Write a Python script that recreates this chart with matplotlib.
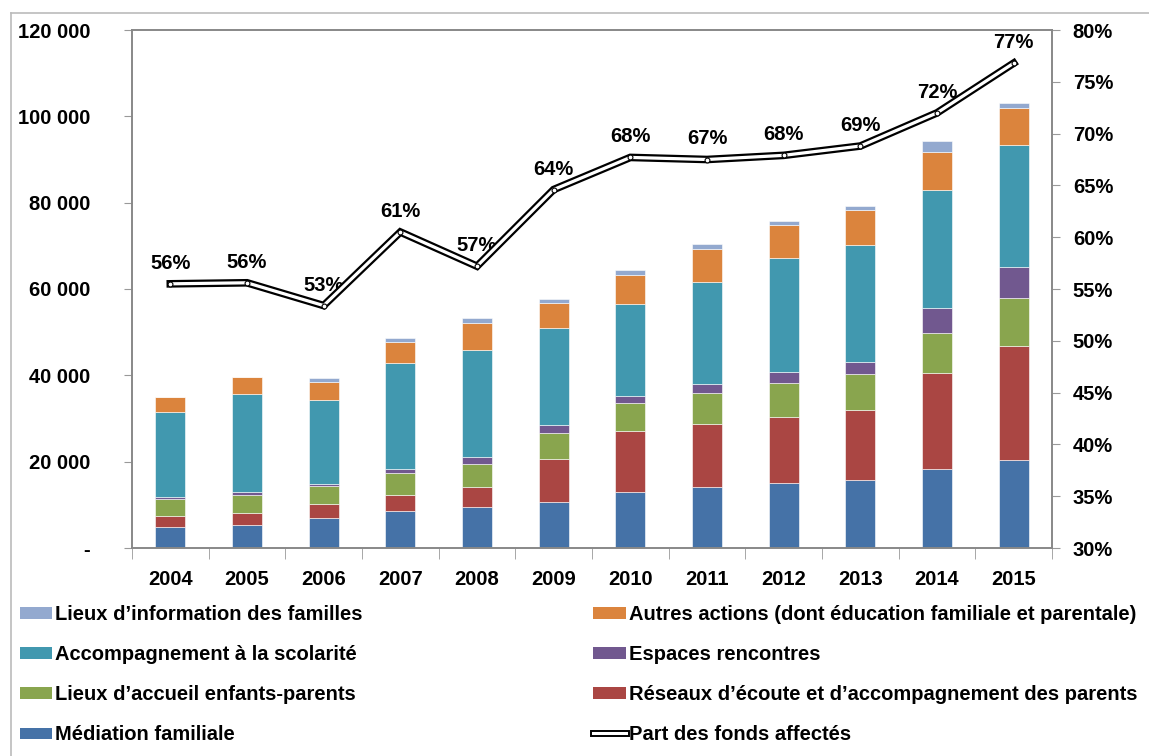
import matplotlib
matplotlib.use("Agg")
import matplotlib.pyplot as plt
from matplotlib.patches import Patch
from matplotlib.lines import Line2D
from matplotlib.ticker import FixedLocator, FuncFormatter
from matplotlib.legend_handler import HandlerBase
import numpy as np

plt.rcParams['font.family'] = ['Liberation Sans', 'DejaVu Sans']
plt.rcParams['font.weight'] = 'bold'

years = ['2004', '2005', '2006', '2007', '2008', '2009', '2010', '2011', '2012', '2013', '2014', '2015']

mediation = [4800, 5400, 7000, 8500, 9600, 10700, 13000, 14100, 15100, 15800, 18300, 20500]
reseaux = [2500, 2800, 3200, 3850, 4600, 9950, 14050, 14600, 15200, 16100, 22200, 26400]
lieux_accueil = [4100, 4100, 4200, 4950, 5300, 6100, 6500, 7100, 8000, 8500, 9400, 11100]
espaces = [350, 600, 500, 1050, 1500, 1750, 1750, 2100, 2500, 2700, 5700, 7200]
scolarite = [19700, 22800, 19500, 24500, 24800, 22500, 21300, 23700, 26400, 27200, 27300, 28200]
autres = [3500, 4000, 4100, 4900, 6300, 5800, 6700, 7600, 7700, 8000, 8800, 8500]
lieux_info = [100, 0, 800, 850, 1150, 950, 1150, 1250, 950, 950, 2500, 1250]

part_fonds = [55.5, 55.6, 53.4, 60.5, 57.2, 64.6, 67.7, 67.5, 67.9, 68.8, 72.0, 76.8]
part_labels = ['56%', '56%', '53%', '61%', '57%', '64%', '68%', '67%', '68%', '69%', '72%', '77%']

series = [
    ('Médiation familiale', mediation, '#4572A7'),
    ('Réseaux d\u2019écoute et d\u2019accompagnement des parents', reseaux, '#AA4643'),
    ('Lieux d\u2019accueil enfants-parents', lieux_accueil, '#89A54E'),
    ('Espaces rencontres', espaces, '#71588F'),
    ('Accompagnement à la scolarité', scolarite, '#4198AF'),
    ('Autres actions (dont éducation familiale et parentale)', autres, '#DB843D'),
    ('Lieux d\u2019information des familles', lieux_info, '#93A9CF'),
]

W, H = 1149, 756
fig = plt.figure(figsize=(W / 100, H / 100), dpi=100)
ax = fig.add_axes([132 / W, 1 - 548 / H, (1052 - 132) / W, (548 - 30) / H])

x = np.arange(len(years))
bottom = np.zeros(len(years))
for name, vals, col in series:
    v = np.array(vals, dtype=float)
    ax.bar(x, v, bottom=bottom, width=0.39, color=col, edgecolor='white', linewidth=0.4, zorder=2)
    bottom += v

ax.set_xlim(-0.5, len(years) - 0.5)
ax.set_ylim(0, 120000)
ax.yaxis.set_major_locator(FixedLocator(np.arange(0, 120001, 20000)))
def yfmt(v, p):
    if v == 0:
        return '-'
    return '{:,.0f}'.format(v).replace(',', ' ')
ax.yaxis.set_major_formatter(FuncFormatter(yfmt))
ax.set_xticks(x)
ax.set_xticklabels(years)
ax.set_xticks(np.arange(-0.5, len(years), 1.0), minor=True)
ax.tick_params(axis='x', which='major', length=0, pad=16, labelsize=14.5)
ax.tick_params(axis='x', which='minor', length=8, color='#999999', direction='out')
ax.tick_params(axis='y', length=6, color='#999999', labelsize=14.5, pad=24)
for sp in ax.spines.values():
    sp.set_color('#888888')
    sp.set_linewidth(1.2)

ax2 = ax.twinx()
ax2.set_ylim(30, 80)
ax2.yaxis.set_major_locator(FixedLocator(np.arange(30, 81, 5)))
ax2.yaxis.set_major_formatter(FuncFormatter(lambda v, p: '{:.0f}%'.format(v)))
ax2.tick_params(axis='y', length=6, color='#999999', labelsize=14.5, pad=9)
for sp in ax2.spines.values():
    sp.set_color('#888888')
    sp.set_linewidth(1.2)

ax2.plot(x, part_fonds, color='black', linewidth=5.5, solid_joinstyle='miter', zorder=3)
ax2.plot(x, part_fonds, color='white', linewidth=2.3, solid_joinstyle='miter', zorder=4,
         marker='o', markersize=3.5, markerfacecolor='white', markeredgecolor='black', markeredgewidth=0.8)
for xi, yi, lab in zip(x, part_fonds, part_labels):
    ax2.annotate(lab, (xi, yi), xytext=(0, 11), textcoords='offset pixels',
                 ha='center', va='bottom', fontsize=14.5, fontweight='bold')

# legend
handles = []
for i in [6, 4, 2, 0, 5, 3, 1]:
    handles.append(Patch(facecolor=series[i][2], label=series[i][0]))

class DoubleLine:
    pass
class HandlerDouble(HandlerBase):
    def create_artists(self, legend, orig_handle, xdescent, ydescent, width, height, fontsize, trans):
        y = height / 2 - ydescent
        l1 = Line2D([-xdescent, width - xdescent], [y, y], color='black', linewidth=5.0, transform=trans)
        l2 = Line2D([-xdescent, width - xdescent], [y, y], color='white', linewidth=2.2, transform=trans)
        return [l1, l2]
handles.append(DoubleLine())
labels = [h.get_label() for h in handles[:-1]] + ['Part des fonds affectés']

fig.legend(handles, labels, ncol=2, loc='upper left', bbox_to_anchor=(20 / W, 1 - 605 / H),
           frameon=False, fontsize=14.5, handlelength=1.6, handleheight=0.5, handletextpad=0.15,
           columnspacing=11.45, labelspacing=1.05, borderaxespad=0, borderpad=0,
           handler_map={DoubleLine: HandlerDouble()})

# figure border lines
fig.add_artist(Line2D([11 / W, 1], [1 - 13 / H, 1 - 13 / H], color='#BBBBBB', linewidth=1.2))
fig.add_artist(Line2D([11 / W, 11 / W], [0, 1 - 13 / H], color='#BBBBBB', linewidth=1.2))

fig.savefig('out.png', dpi=100)
